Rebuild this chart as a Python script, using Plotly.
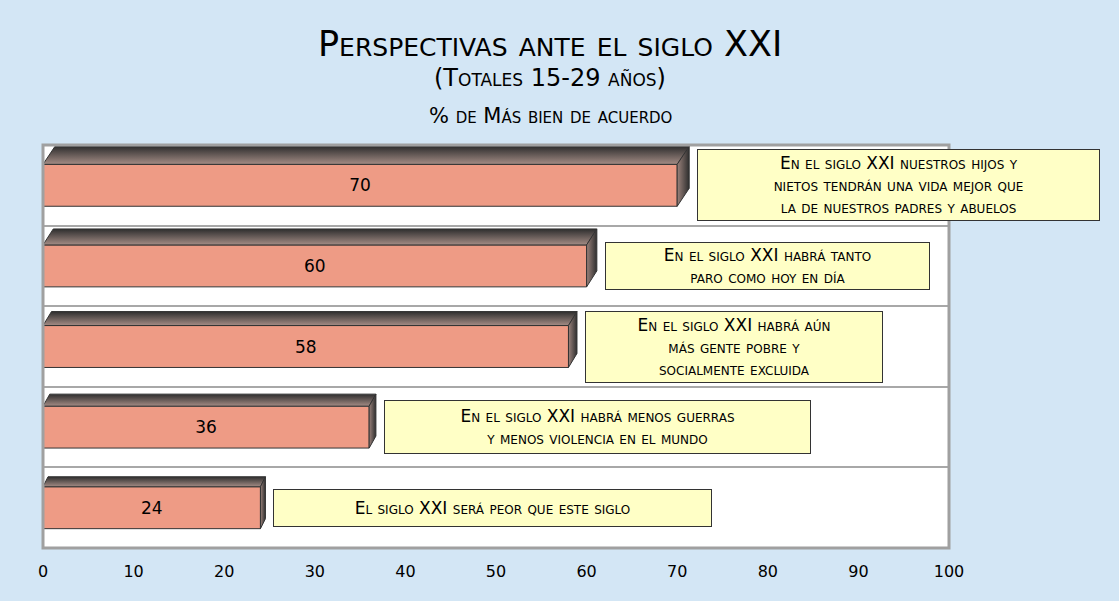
import plotly.graph_objects as go

# --------------------------------------------
# DATA
# --------------------------------------------
values = [70, 60, 58, 36, 24]
value_labels = ["70", "60", "58", "36", "24"]
statements = [
    "En el siglo XXI nuestros hijos y<br>nietos tendrán una vida mejor que<br>la de nuestros padres y abuelos",
    "En el siglo XXI habrá tanto<br>paro como hoy en día",
    "En el siglo XXI habrá aún<br>más gente pobre y<br>socialmente excluida",
    "En el siglo XXI habrá menos guerras<br>y menos violencia en el mundo",
    "El siglo XXI será peor que este siglo",
]
x_ticks = [0, 10, 20, 30, 40, 50, 60, 70, 80, 90, 100]

title = "Perspectivas ante el siglo XXI"
subtitle = "(Totales 15-29 años)"
measure = "% de Más bien de acuerdo"

# --------------------------------------------
# STYLE
# --------------------------------------------
W, H = 1119, 601
L, R, T, B = 43, 170, 145, 53
FONT = "DejaVu Sans"
BG = "#D3E6F5"
BAR = "#EE9B85"
EDGE = "#333333"
BOX = "#FFFFC6"
BAR_W = 0.52
BOX_W = [395, 317, 290, 419, 431]      # inner widths of the text boxes (px)
BOX_H = [None, 40, None, 46, 30]       # inner heights where text is shorter

n = len(values)
ypos = [n - 1 - i for i in range(n)]
px_x = (W - L - R) / 100
px_y = (H - T - B) / n

fig = go.Figure()

# front faces
fig.add_trace(go.Bar(
    x=values, y=ypos, orientation="h", width=BAR_W,
    marker=dict(color=BAR, line=dict(color=EDGE, width=1)),
    text=value_labels, textposition="inside", insidetextanchor="middle",
    textangle=0,
    textfont=dict(family=FONT, size=17, color="black"),
    hoverinfo="skip", showlegend=False,
))

# 3D top and side faces + statement boxes
for i, (v, y) in enumerate(zip(values, ypos)):
    dx = (12 - 1.75 * i) / px_x
    dy = (18 - 2 * i) / px_y
    yt = y + BAR_W / 2
    yb = y - BAR_W / 2
    fig.add_trace(go.Scatter(
        x=[0, v, v + dx, dx, 0], y=[yt, yt, yt + dy, yt + dy, yt],
        mode="lines", fill="toself",
        line=dict(color=EDGE, width=1),
        fillgradient=dict(type="vertical", colorscale=[[0, "#A48C85"], [1, "#2E2E2E"]],
                          start=yt, stop=yt + dy),
        hoverinfo="skip", showlegend=False,
    ))
    fig.add_trace(go.Scatter(
        x=[v, v + dx, v + dx, v, v], y=[yt, yt + dy, yb + dy, yb, yt],
        mode="lines", fill="toself",
        line=dict(color=EDGE, width=1),
        fillgradient=dict(type="horizontal", colorscale=[[0, "#9A827B"], [1, "#2E2E2E"]],
                          start=v, stop=v + dx),
        hoverinfo="skip", showlegend=False,
    ))
    fig.add_annotation(
        x=v + dx + 8 / px_x, y=y, xref="x", yref="y",
        text=statements[i], showarrow=False,
        xanchor="left", yanchor="middle", align="center",
        width=BOX_W[i], height=BOX_H[i],
        bgcolor=BOX, bordercolor=EDGE, borderwidth=1, borderpad=3,
        font=dict(family=FONT, size=17, color="black", variant="small-caps"),
    )

# titles
for txt, yp, sz in [(title, 1.25, 35), (subtitle, 1.166, 24), (measure, 1.072, 21)]:
    fig.add_annotation(
        x=(550 - L) / (W - L - R), y=yp, xref="paper", yref="paper",
        text=txt, showarrow=False, xanchor="center", yanchor="middle",
        font=dict(family=FONT, size=sz, color="black", variant="small-caps"),
    )

# plot border
fig.add_shape(type="rect", xref="paper", yref="paper", x0=0, x1=1, y0=0, y1=1,
              line=dict(color="#A0A0A0", width=3), layer="above")

fig.update_layout(
    width=W, height=H,
    margin=dict(l=L, r=R, t=T, b=B),
    paper_bgcolor=BG, plot_bgcolor="white",
    font=dict(family=FONT, color="black", variant="small-caps"),
    hovermode=False,
    xaxis=dict(range=[0, 100], tickvals=x_ticks, showgrid=False, zeroline=False,
               showline=False, ticks="", ticklabelstandoff=12,
               tickfont=dict(family=FONT, size=16, color="black")),
    yaxis=dict(range=[-0.5, n - 0.5], tickvals=[k + 0.5 for k in range(n - 1)],
               showgrid=True, gridcolor="#A8A8A8", gridwidth=2,
               showticklabels=False, zeroline=False, showline=False, ticks=""),
)

fig.write_html("out.html", config={"displayModeBar": False},
               post_script="document.body.style.margin='0';")
